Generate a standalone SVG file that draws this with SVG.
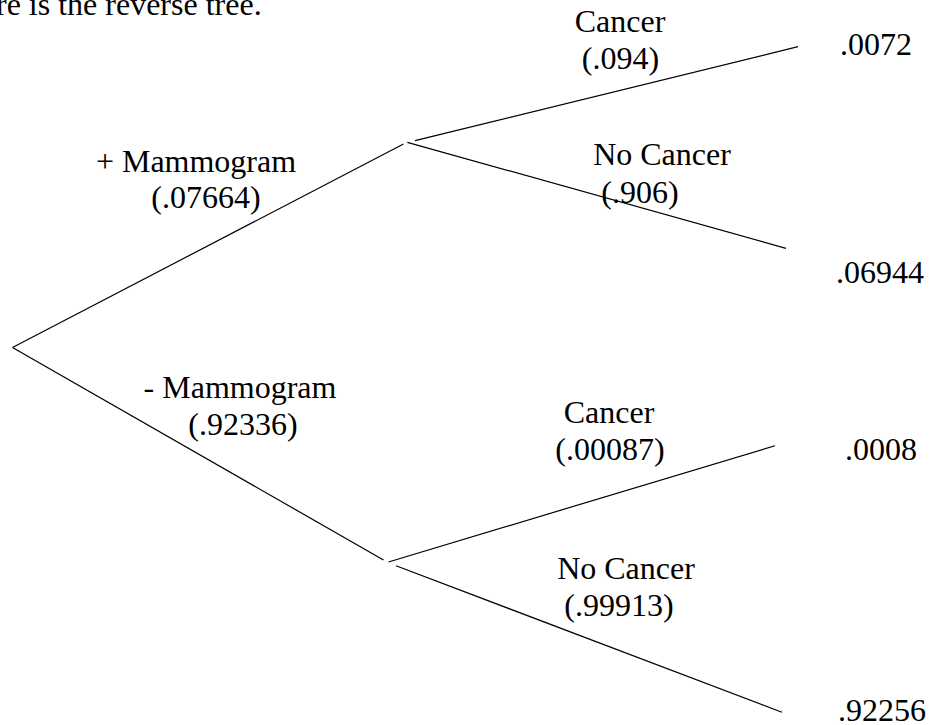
<svg xmlns="http://www.w3.org/2000/svg" width="931" height="725" viewBox="0 0 931 725">
<style>
text{font-family:"Liberation Serif","Times New Roman",serif;font-size:32px;fill:#000}
.c{text-anchor:middle}
.e{stroke:#000;stroke-width:1.2;fill:none}
</style>
<rect width="931" height="725" fill="#fff"/>
<g id="caption"><text x="-4" y="15">re is the reverse tree.</text></g>
<g id="connectors">
<line class="e" x1="12.5" y1="347.5" x2="403.5" y2="144"/>
<line class="e" x1="12.5" y1="347.5" x2="383.5" y2="560"/>
<line class="e" x1="415" y1="140.7" x2="798" y2="46.7"/>
<line class="e" x1="407.3" y1="142.3" x2="786" y2="248.3"/>
<line class="e" x1="388.5" y1="562" x2="775" y2="445.7"/>
<line class="e" x1="396" y1="565.7" x2="782" y2="712.3"/>
</g>
<g id="pos-mammogram"><text class="c" x="196" y="172">+ Mammogram</text><text class="c" x="206" y="208">(.07664)</text></g>
<g id="neg-mammogram"><text class="c" x="240" y="398">- Mammogram</text><text class="c" x="243" y="435">(.92336)</text></g>
<g id="pos-cancer"><text class="c" x="620" y="32">Cancer</text><text class="c" x="620.5" y="69">(.094)</text></g>
<g id="pos-nocancer"><text class="c" x="662" y="165">No Cancer</text><text class="c" x="640" y="203">(.906)</text></g>
<g id="neg-cancer"><text class="c" x="609" y="423">Cancer</text><text class="c" x="610" y="460">(.00087)</text></g>
<g id="neg-nocancer"><text class="c" x="626" y="579">No Cancer</text><text class="c" x="619" y="616">(.99913)</text></g>
<g id="out1"><text x="840" y="55">.0072</text></g>
<g id="out2"><text x="836" y="283">.06944</text></g>
<g id="out3"><text x="845" y="460">.0008</text></g>
<g id="out4"><text x="838" y="721">.92256</text></g>
</svg>
